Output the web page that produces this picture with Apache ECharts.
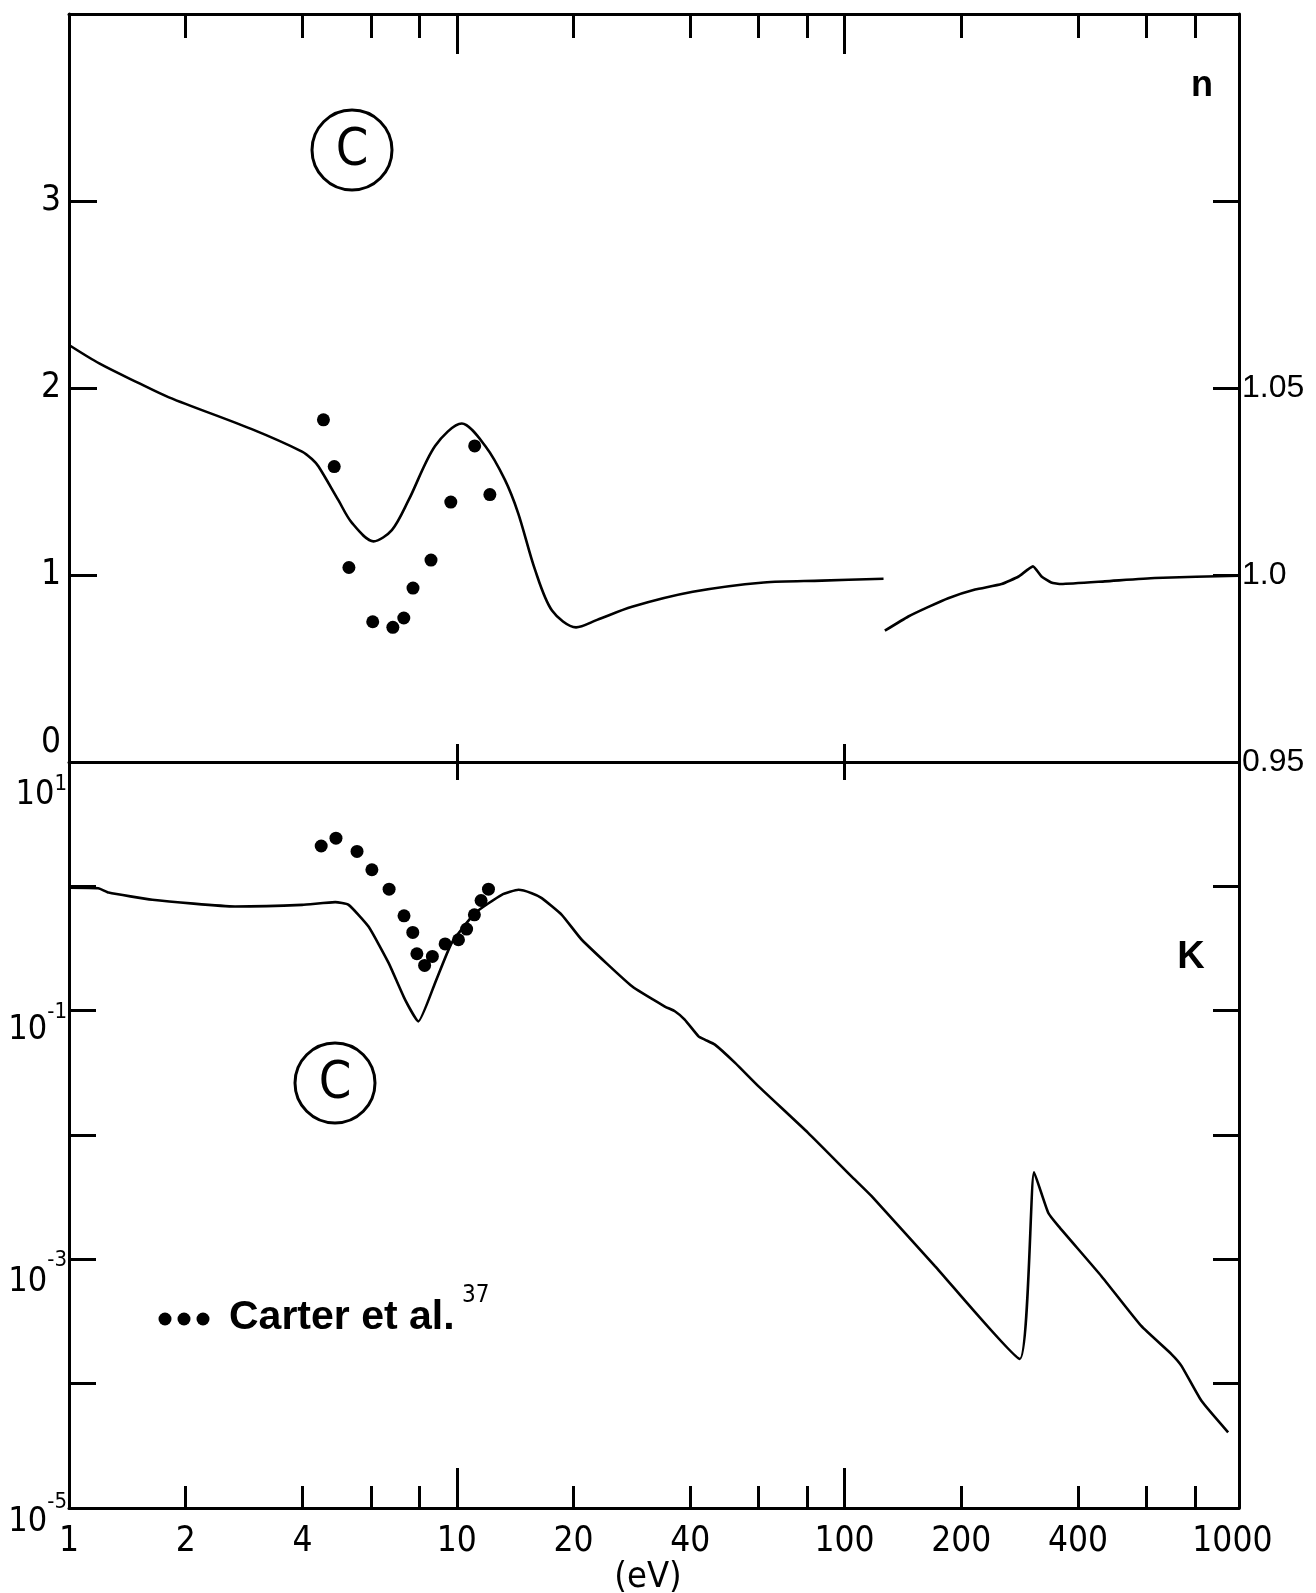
<!DOCTYPE html>
<html>
<head>
<meta charset="utf-8">
<script src="https://cdn.jsdelivr.net/npm/echarts@6/dist/echarts.min.js"></script>
<style>
  html, body { margin: 0; padding: 0; background: #fff; }
  #chart { width: 1316px; height: 1593px; }
</style>
</head>
<body>
<div id="chart"></div>
<script>
// Optical constants of carbon versus photon energy (eV).

// Refractive index n, computed curve up to the break near 130 eV (left scale 0-4)
const nCurveE   = [1.0, 1.2, 1.5, 1.81, 2.96, 3.99, 4.23, 4.40, 4.95, 5.36, 6.10, 6.80, 7.51, 8.79, 10.3, 11.84, 13.3, 14.4, 15.9, 17.6, 20.3, 23, 28.3, 40.6, 61.9, 87.3, 126];
const nCurveVal = [2.23, 2.13, 2.03, 1.95, 1.78, 1.66, 1.62, 1.58, 1.40, 1.28, 1.18, 1.24, 1.40, 1.69, 1.81, 1.69, 1.51, 1.33, 1.03, 0.81, 0.72, 0.76, 0.83, 0.91, 0.96, 0.97, 0.98];

// Refractive index n above the break, on the expanded right scale (0.95-1.15)
const nHighE   = [127, 146, 164, 185, 217, 254, 281, 306, 322, 341, 362, 469, 631, 1040];
const nHighVal = [0.9851, 0.9889, 0.9914, 0.9938, 0.9961, 0.9976, 0.9996, 1.0023, 0.9996, 0.9980, 0.9976, 0.9983, 0.9992, 0.9998];

// Measured n (Carter et al.)
const nCarterE   = [4.53, 4.83, 5.27, 6.07, 6.84, 7.30, 7.71, 8.58, 9.65, 11.12, 12.17];
const nCarterVal = [1.83, 1.58, 1.04, 0.75, 0.72, 0.77, 0.93, 1.08, 1.39, 1.69, 1.43];

// Extinction coefficient K, computed curve
const kCurveE   = [1.0, 1.19, 1.265, 1.64, 2.68, 3.99, 4.86, 5.26, 5.92, 6.67, 7.36, 7.96, 8.79, 9.70, 11.15, 13.06, 14.42, 15.6, 16.56, 18.65, 21.0, 28.3, 34.4, 36.5, 38.7, 42.0, 43.6, 46.3, 52.2, 59.9, 80.5, 104, 117.4, 171, 283, 308, 335, 356, 459, 582, 696, 739, 832, 975];
const kCurveVal = [0.977, 0.966, 0.891, 0.780, 0.689, 0.710, 0.746, 0.710, 0.475, 0.242, 0.122, 0.082, 0.167, 0.350, 0.610, 0.855, 0.938, 0.881, 0.804, 0.590, 0.372, 0.157, 0.108, 0.0989, 0.0847, 0.0622, 0.0585, 0.0533, 0.0380, 0.0247, 0.0104, 0.00467, 0.00322, 0.000883, 0.000158, 0.00502, 0.00237, 0.00185, 0.000735, 0.000291, 0.000173, 0.000139, 0.0000728, 0.0000406];

// Measured K (Carter et al.)
const kCarterE   = [4.47, 4.88, 5.53, 6.04, 6.69, 7.31, 7.70, 7.89, 8.26, 8.65, 9.33, 10.1, 10.6, 11.1, 11.55, 12.07];
const kCarterVal = [2.11, 2.44, 1.91, 1.36, 0.948, 0.579, 0.426, 0.287, 0.231, 0.273, 0.344, 0.372, 0.453, 0.590, 0.769, 0.948];

// Energy axis ticks and labels
const xTickMinor  = [2, 4, 6, 8, 20, 40, 60, 80, 200, 400, 600, 800];
const xTickMajor  = [10, 100];
const xTickLabels = [1, 2, 4, 10, 20, 40, 100, 200, 400, 1000];

// n scales
const nLeftLabels  = [0, 1, 2, 3];
const nRightLabels = [0.95, 1.0, 1.05];

// K scale
const kTicks  = [1, 0.1, 0.01, 0.001, 0.0001];
const kLabels = [10, 0.1, 0.001, 0.00001];

const X_MIN = 1, X_MAX = 1040;
const INK = '#000';
const NARROW = "'Liberation Sans Narrow','DejaVu Sans Condensed','Liberation Sans',sans-serif";
const REGULAR = "'Liberation Sans','DejaVu Sans',sans-serif";

const pairs = (xs, ys) => xs.map((x, i) => [x, ys[i]]);

function energyAxis(grid, position, opts) {
  return {
    type: 'log', logBase: 10, min: X_MIN, max: X_MAX,
    gridIndex: grid, position: position,
    splitLine: { show: false }, minorTick: { show: false }, minorSplitLine: { show: false },
    axisLine: { show: !!opts.line, onZero: false, lineStyle: { color: INK, width: 3 } },
    axisTick: {
      show: true, inside: true, length: opts.tickLen,
      customValues: opts.ticks, lineStyle: { color: INK, width: 3 }
    },
    axisLabel: opts.labels ? {
      show: true, customValues: opts.labels, margin: 16,
      color: INK, fontFamily: NARROW, fontSize: 35,
      formatter: v => String(Math.round(v))
    } : { show: false },
    name: opts.name || '', nameLocation: 'middle', nameGap: 46,
    nameTextStyle: { color: INK, fontFamily: NARROW, fontSize: 36, padding: [0, 12, 0, 0] }
  };
}

// per-exponent placement of the "10" and its superscript
const kLabelRich = {};
const kLabelPos = { '1': [33, 22], '-1': [20, 2], '-3': [23, 1], '-5': [14, -6] };
const L = 120, HB = 34, HS = 22;
Object.keys(kLabelPos).forEach((e, i) => {
  const [b, s] = kLabelPos[e];
  kLabelRich['b' + i] = { fontFamily: NARROW, fontSize: 34, color: INK, lineHeight: L, verticalAlign: 'bottom', padding: [0, 0, L / 2 - HB / 2 - b, 0] };
  kLabelRich['s' + i] = { fontFamily: NARROW, fontSize: 22, color: INK, lineHeight: L, verticalAlign: 'top', padding: [s + L / 2 - HS / 2, 0, 0, 0] };
});
const kLabelKeys = Object.keys(kLabelPos);

const curveStyle = { color: INK, width: 2.6 };
const dotStyle = { color: INK, opacity: 1 };

const option = {
  animation: false,
  backgroundColor: '#fff',
  grid: [
    { left: 69, right: 77, top: 14, height: 748, outerBoundsMode: 'none' },
    { left: 69, right: 77, top: 762, height: 746, outerBoundsMode: 'none' }
  ],
  xAxis: [
    energyAxis(0, 'top', { line: true, tickLen: 24, ticks: xTickMinor }),
    energyAxis(0, 'top', { line: false, tickLen: 40, ticks: xTickMajor }),
    energyAxis(0, 'bottom', { line: true, tickLen: 18, ticks: xTickMajor }),
    energyAxis(1, 'top', { line: false, tickLen: 18, ticks: xTickMajor }),
    energyAxis(1, 'bottom', { line: true, tickLen: 22, ticks: xTickMinor, labels: xTickLabels, name: '(eV)' }),
    energyAxis(1, 'bottom', { line: false, tickLen: 40, ticks: xTickMajor })
  ],
  yAxis: [
    {
      type: 'value', gridIndex: 0, position: 'left', min: 0, max: 4, interval: 1,
      splitLine: { show: false },
      axisLine: { show: true, onZero: false, lineStyle: { color: INK, width: 3 } },
      axisTick: { show: true, inside: true, length: 28, lineStyle: { color: INK, width: 3 } },
      axisLabel: {
        show: true, customValues: nLeftLabels, margin: 8, color: INK, fontFamily: NARROW, fontSize: 35,
        formatter: v => v === 0 ? '{z|0}' : String(v),
        rich: { z: { fontFamily: NARROW, fontSize: 35, color: INK, lineHeight: 100, verticalAlign: 'top', padding: [13, 0, 0, 0] } }
      }
    },
    {
      type: 'value', gridIndex: 0, position: 'right', min: 0.95, max: 1.15, interval: 0.05,
      splitLine: { show: false },
      axisLine: { show: true, onZero: false, lineStyle: { color: INK, width: 3 } },
      axisTick: { show: true, inside: true, length: 26, lineStyle: { color: INK, width: 3 } },
      axisLabel: {
        show: true, customValues: nRightLabels, margin: 3, color: INK, fontFamily: REGULAR, fontSize: 32,
        formatter: v => { const r = Math.round(v * 100) / 100; return r === 1 ? '1.0' : String(r); }
      }
    },
    {
      type: 'log', logBase: 10, gridIndex: 1, position: 'left', min: 0.00001, max: 10,
      splitLine: { show: false }, minorTick: { show: false },
      axisLine: { show: true, onZero: false, lineStyle: { color: INK, width: 3 } },
      axisTick: { show: true, inside: true, length: 27, customValues: kTicks, lineStyle: { color: INK, width: 3 } },
      axisLabel: {
        show: true, customValues: kLabels, margin: 2, align: 'right',
        formatter: v => {
          const e = String(Math.round(Math.log10(v)));
          const i = kLabelKeys.indexOf(e);
          return '{b' + i + '|10}{s' + i + '|' + e + '}';
        },
        rich: kLabelRich
      }
    },
    {
      type: 'log', logBase: 10, gridIndex: 1, position: 'right', min: 0.00001, max: 10,
      splitLine: { show: false }, minorTick: { show: false },
      axisLine: { show: true, onZero: false, lineStyle: { color: INK, width: 3 } },
      axisTick: { show: true, inside: true, length: 26, customValues: kTicks, lineStyle: { color: INK, width: 3 } },
      axisLabel: { show: false }
    }
  ],
  series: [
    {
      name: 'n', type: 'line', xAxisIndex: 0, yAxisIndex: 0,
      data: pairs(nCurveE, nCurveVal), smooth: 0.3,
      showSymbol: false, symbol: 'none', lineStyle: curveStyle
    },
    {
      name: 'n (high energy)', type: 'line', xAxisIndex: 0, yAxisIndex: 1,
      data: pairs(nHighE, nHighVal), smooth: 0.15,
      showSymbol: false, symbol: 'none', lineStyle: curveStyle
    },
    {
      name: 'Carter et al. n', type: 'scatter', xAxisIndex: 0, yAxisIndex: 0,
      data: pairs(nCarterE, nCarterVal), symbol: 'circle', symbolSize: 13,
      itemStyle: dotStyle
    },
    {
      name: 'K', type: 'line', xAxisIndex: 4, yAxisIndex: 2,
      data: pairs(kCurveE, kCurveVal), smooth: 0.15,
      showSymbol: false, symbol: 'none', lineStyle: curveStyle
    },
    {
      name: 'Carter et al. K', type: 'scatter', xAxisIndex: 4, yAxisIndex: 2,
      data: pairs(kCarterE, kCarterVal), symbol: 'circle', symbolSize: 13,
      itemStyle: dotStyle
    }
  ],
  graphic: [
    { type: 'circle', shape: { cx: 352, cy: 150, r: 40 }, style: { fill: 'none', stroke: INK, lineWidth: 3 } },
    { type: 'text', x: 352, y: 151, style: { text: 'C', fill: INK, fontFamily: NARROW, fontSize: 52, align: 'center', verticalAlign: 'middle' } },
    { type: 'circle', shape: { cx: 335, cy: 1083, r: 40 }, style: { fill: 'none', stroke: INK, lineWidth: 3 } },
    { type: 'text', x: 335, y: 1084, style: { text: 'C', fill: INK, fontFamily: NARROW, fontSize: 52, align: 'center', verticalAlign: 'middle' } },
    { type: 'text', x: 1202, y: 86, style: { text: 'n', fill: INK, fontFamily: REGULAR, fontWeight: 'bold', fontSize: 36, align: 'center', verticalAlign: 'middle' } },
    { type: 'text', x: 1191, y: 958, style: { text: 'K', fill: INK, fontFamily: REGULAR, fontWeight: 'bold', fontSize: 38, align: 'center', verticalAlign: 'middle' } },
    { type: 'circle', shape: { cx: 165, cy: 1319, r: 6.5 }, style: { fill: INK } },
    { type: 'circle', shape: { cx: 184, cy: 1319, r: 6.5 }, style: { fill: INK } },
    { type: 'circle', shape: { cx: 203, cy: 1319, r: 6.5 }, style: { fill: INK } },
    { type: 'text', x: 229, y: 1318, style: { text: 'Carter et al.', fill: INK, fontFamily: REGULAR, fontWeight: 'bold', fontSize: 41, align: 'left', verticalAlign: 'middle' } },
    { type: 'text', x: 462, y: 1296, style: { text: '37', fill: INK, fontFamily: NARROW, fontSize: 24, align: 'left', verticalAlign: 'middle' } }
  ]
};

const chart = echarts.init(document.getElementById('chart'), null, { renderer: 'canvas', width: 1316, height: 1593 });
chart.setOption(option);
</script>
</body>
</html>
